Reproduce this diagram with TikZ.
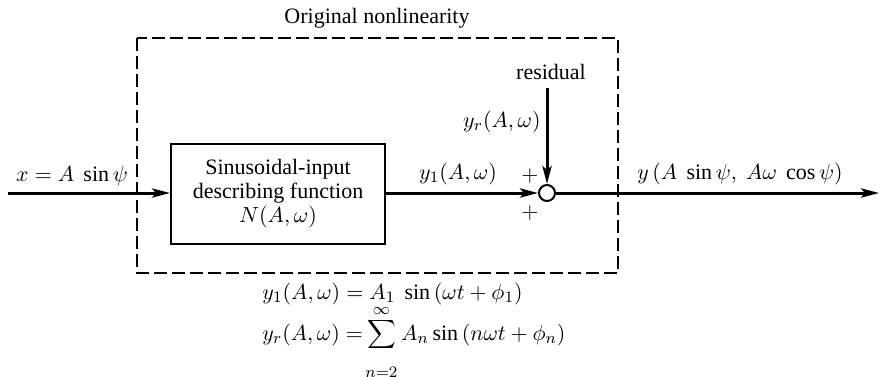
\documentclass[tikz,border=0pt]{standalone}
\usepackage{fontspec}
\setmainfont{Liberation Serif}
\usetikzlibrary{arrows.meta}
\begin{document}
\begin{tikzpicture}[x=0.5pt,y=-0.5pt,
  font=\fontsize{11}{13}\selectfont,
  sig/.style={line width=1.5pt},
  arr/.style={sig,-{Stealth[length=9pt,width=4.6pt,inset=2pt]}},
  blockbox/.style={draw,line width=1pt,minimum width=107pt,minimum height=50pt,align=center,inner sep=0pt},
  dashbox/.style={draw,line width=0.9pt,dash pattern=on 6.5pt off 2.5pt},
  sumnode/.style={draw,circle,line width=1pt,minimum size=8pt,inner sep=0pt,fill=white},
  lbl/.style={inner sep=0pt}]
\useasboundingbox (0,0) rectangle (881,376);
% dashed boundary
\coordinate (dtl) at (137,38);
\coordinate (dbr) at (618,273);
\draw[dashbox] (dtl) rectangle (dbr);
\node[lbl] (title) at (377,18) {Original nonlinearity};
% nodes
\coordinate (in) at (8,193);
\node[blockbox] (df) at (278,194) {Sinusoidal-input\\[-1pt] describing function\\[-1pt] $N(A,\omega)$};
\node[sumnode] (sum) at (547,193) {};
\coordinate (res) at (547,88);
\coordinate (out) at (879,193);
% connectors
\draw[arr] (in) -- (df.west |- in);
\draw[arr] (df.east |- sum) -- (sum.west);
\draw[arr] (res) -- (sum.north);
\draw[arr] (sum.east) -- (out);
% labels
\node[lbl] (xl) at (72,176) {$x = A\ \sin\psi$};
\node[lbl] (y1l) at (458,174) {$y_1(A,\omega)$};
\node[lbl] (resl) at (551,72) {residual};
\node[lbl,anchor=east] (yrl) at (541,122) {$y_r(A,\omega)$};
\node[lbl] (p1) at (530,176) {$+$};
\node[lbl] (p2) at (530,213) {$+$};
\node[lbl] (yl) at (740,174) {$y\,(A\ \sin\psi,\ A\omega\ \cos\psi)$};
% equations
\node[lbl,anchor=base west] (eq1) at (262,299) {$y_1(A,\omega) = A_1\ \sin\,(\omega t + \phi_1)$};
\node[lbl,anchor=base west] (eq2) at (262,340) {$y_r(A,\omega) =\!\displaystyle\sum_{\rule{0pt}{12pt}n=2}^{\infty} A_n \sin\,(n\omega t + \phi_n)$};
\end{tikzpicture}
\end{document}
